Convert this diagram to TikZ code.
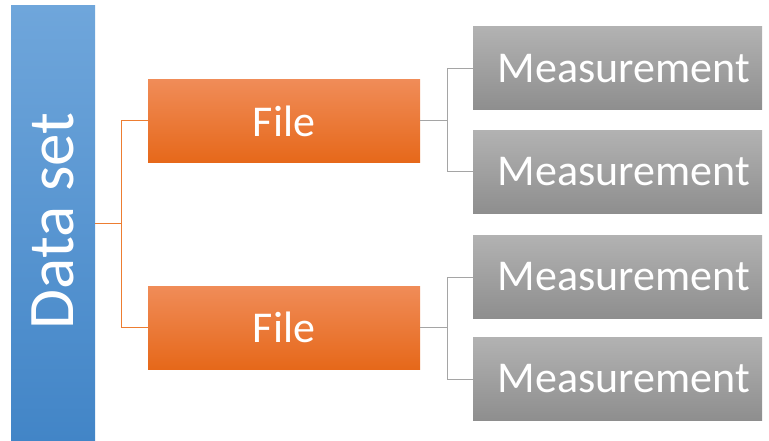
\documentclass[tikz,border=0pt]{standalone}
\usepackage{fontspec}
\setmainfont{Carlito}
\usetikzlibrary{positioning}
\definecolor{SetBlueTop}{RGB}{111, 166, 219}
\definecolor{SetBlueBot}{RGB}{66, 133, 199}
\definecolor{FileOrangeTop}{RGB}{240, 140, 88}
\definecolor{FileOrangeBot}{RGB}{230, 104, 26}
\definecolor{MeasGreyTop}{RGB}{178, 178, 178}
\definecolor{MeasGreyBot}{RGB}{142, 142, 142}
\definecolor{LinkOrange}{RGB}{237, 125, 49}
\definecolor{LinkGrey}{RGB}{165, 165, 165}

\begin{document}
\begin{tikzpicture}[x=1pt, y=-1pt,
    setbox/.style={inner sep=0pt, minimum width=84pt, minimum height=435pt,
        top color=SetBlueTop, bottom color=SetBlueBot, text=white},
    filebox/.style={inner sep=0pt, minimum width=272pt, minimum height=83pt,
        top color=FileOrangeTop, bottom color=FileOrangeBot, text=white,
        font=\fontsize{44}{50}\selectfont},
    measbox/.style={inner sep=0pt, minimum width=289pt, minimum height=83pt,
        top color=MeasGreyTop, bottom color=MeasGreyBot, text=white,
        font=\fontsize{44}{50}\selectfont, execute at begin node=\hspace*{13pt}},
    orangelink/.style={LinkOrange, line width=1pt},
    greylink/.style={LinkGrey, line width=1pt}]
    \useasboundingbox (0,0) rectangle (769,441);

    % data set
    \node[setbox] (ds) at (53,223.5) {};
    \node[rotate=90, text=white, font=\fontsize{65}{70}\selectfont] (dslabel) at (53,221) {Data set};

    % files
    \node[filebox] (f1) at (284,121) {File};
    \node[filebox] (f2) at (284,327.5) {File};

    % measurements
    \node[measbox] (m1) at (617.5,68.5) {Measurement};
    \node[measbox] (m2) at (617.5,172) {Measurement};
    \node[measbox] (m3) at (617.5,277) {Measurement};
    \node[measbox] (m4) at (617.5,379) {Measurement};

    % links
    \coordinate (jds) at (121,223.5);
    \draw[orangelink] (ds.east) -- (jds) |- (f1.west);
    \draw[orangelink] (jds) |- (f2.west);

    \coordinate (jf1) at (447,121);
    \draw[greylink] (f1.east) -- (jf1) |- (m1.west);
    \draw[greylink] (jf1) |- (m2.west);

    \coordinate (jf2) at (447,327.5);
    \draw[greylink] (f2.east) -- (jf2) |- (m3.west);
    \draw[greylink] (jf2) |- (m4.west);
\end{tikzpicture}
\end{document}
